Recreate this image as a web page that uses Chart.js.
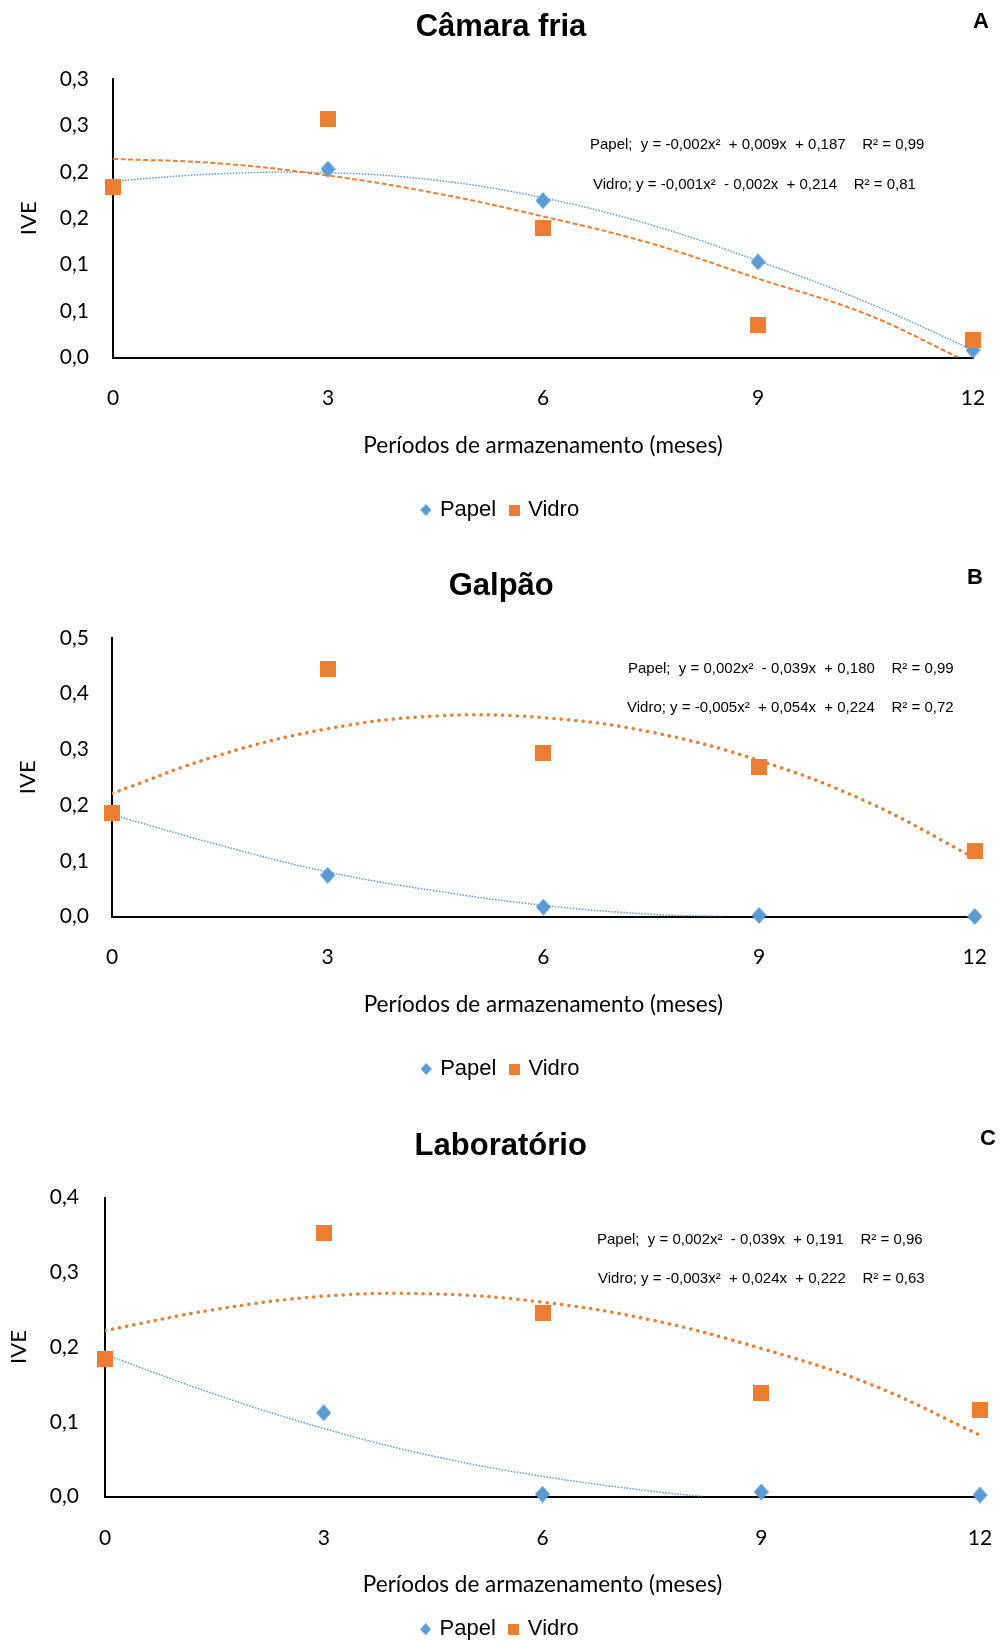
<!DOCTYPE html>
<html>
<head>
<meta charset="utf-8">
<title>IVE</title>
<script src="https://cdn.jsdelivr.net/npm/chart.js@4.4.1/dist/chart.umd.min.js"></script>
<style>
  html, body { margin: 0; padding: 0; background: #fff; }
  #page { position: relative; width: 1001px; height: 1641px; overflow: hidden; }
  .panel { position: absolute; left: 0; width: 1001px; overflow: hidden; }
  .panel canvas { display: block; }
</style>
</head>
<body>
<div id="page">
  <div class="panel" style="top:0;height:559px"><canvas id="chartA" width="1001" height="559"></canvas></div>
  <div class="panel" style="top:559px;height:559px"><canvas id="chartB" width="1001" height="559"></canvas></div>
  <div class="panel" style="top:1118px;height:523px"><canvas id="chartC" width="1001" height="546"></canvas></div>
</div>
<script>
// --- data ---
var seriesNames = ['Papel', 'Vidro'];
var months = [0, 3, 6, 9, 12];
var trendMonths = [0, 1.5, 3, 4.5, 6, 7.5, 9, 10.5, 12];

// A - Câmara fria
var papelA = [0.184, 0.203, 0.169, 0.103, 0.008];
var vidroA = [0.184, 0.257, 0.139, 0.035, 0.019];
var trendPapelA = [0.190, 0.198, 0.199, 0.191, 0.172, 0.143, 0.104, 0.060, 0.008];
var trendVidroAx = [0, 1.5, 3, 4.5, 6, 7.5, 9, 10.5, 11.8];
var trendVidroA = [0.214, 0.209, 0.196, 0.177, 0.152, 0.123, 0.085, 0.047, 0];
var eqA = ['Papel;  y = -0,002x²  + 0,009x  + 0,187    R² = 0,99',
           'Vidro; y = -0,001x²  - 0,002x  + 0,214    R² = 0,81'];

// B - Galpão
var papelB = [0.185, 0.074, 0.017, 0.002, 0.000];
var vidroB = [0.186, 0.444, 0.294, 0.269, 0.117];
var trendPapelBx = [0, 1.5, 3, 4.5, 6, 7.5, 8.5];
var trendPapelB = [0.183, 0.128, 0.080, 0.046, 0.020, 0.004, 0];
var trendVidroB = [0.221, 0.290, 0.337, 0.360, 0.357, 0.331, 0.280, 0.206, 0.105];
var eqB = ['Papel;  y = 0,002x²  - 0,039x  + 0,180    R² = 0,99',
           'Vidro; y = -0,005x²  + 0,054x  + 0,224    R² = 0,72'];

// C - Laboratório
var papelC = [0.185, 0.112, 0.003, 0.006, 0.002];
var vidroC = [0.184, 0.353, 0.246, 0.138, 0.116];
var trendPapelCx = [0, 1.5, 3, 4.5, 6, 7.5, 8.2];
var trendPapelC = [0.190, 0.137, 0.091, 0.054, 0.027, 0.007, 0];
var trendVidroC = [0.222, 0.250, 0.268, 0.271, 0.260, 0.236, 0.198, 0.150, 0.082];
var eqC = ['Papel;  y = 0,002x²  - 0,039x  + 0,191    R² = 0,96',
           'Vidro; y = -0,003x²  + 0,024x  + 0,222    R² = 0,63'];

var blue = '#5B9BD5';
var orange = '#ED7D31';

Chart.defaults.font.family = 'Lato';
Chart.defaults.color = '#000';

function pts(xs, ys) {
  return xs.map(function(x, i) { return {x: x, y: ys[i]}; });
}

// marker images (Excel style diamond / square)
function marker(shape, w, h, color) {
  var c = document.createElement('canvas');
  c.width = w; c.height = h;
  var g = c.getContext('2d');
  g.fillStyle = color;
  g.beginPath();
  if (shape === 'diamond') {
    g.moveTo(w / 2, 0); g.lineTo(w, h / 2); g.lineTo(w / 2, h); g.lineTo(0, h / 2);
  } else {
    g.rect(0, 0, w, h);
  }
  g.closePath();
  g.fill();
  return c;
}
var diamondBig = marker('diamond', 15, 17, blue);
var squareBig = marker('square', 16, 16, orange);
var diamondSmall = marker('diamond', 11, 12, blue);
var squareSmall = marker('square', 11, 11, orange);

function fmtY(v) {
  return (Math.round(v * 10 + 1e-9) / 10).toFixed(1).replace('.', ',');
}

// panel letter + trendline equations
function notes(o) {
  return {
    id: 'notes',
    afterDraw: function(chart) {
      var ctx = chart.ctx;
      ctx.save();
      ctx.fillStyle = '#000';
      ctx.textBaseline = 'middle';
      ctx.textAlign = 'center';
      ctx.font = 'bold 22px "Liberation Sans"';
      ctx.fillText(o.letter, o.letterPos[0], o.letterPos[1]);
      ctx.textAlign = 'left';
      ctx.font = '15px "Liberation Sans"';
      o.eq.forEach(function(t, i) {
        ctx.fillText(t, o.eqPos[i][0], o.eqPos[i][1]);
      });
      ctx.restore();
    }
  };
}

function panel(id, o) {
  var vidroTrendStyle = o.dashedVidro
    ? {borderWidth: 2, borderDash: [5, 2.5], borderCapStyle: 'butt'}
    : {borderWidth: 3.5, borderDash: [0.1, 7.2], borderCapStyle: 'round'};

  var datasets = [
    {label: seriesNames[0], data: pts(months, o.papel), order: 1,
     pointStyle: diamondBig, pointRadius: 8, showLine: false, clip: false},
    {label: seriesNames[1], data: pts(months, o.vidro), order: 0,
     pointStyle: squareBig, pointRadius: 8, showLine: false, clip: false},
    {label: 'trend ' + seriesNames[0], data: pts(o.papelTx, o.papelT), order: 3,
     showLine: true, pointRadius: 0, borderColor: blue, borderWidth: 1.5,
     borderDash: [1.5, 1.5], tension: 0.4},
    Object.assign({label: 'trend ' + seriesNames[1], data: pts(o.vidroTx, o.vidroT), order: 2,
     showLine: true, pointRadius: 0, borderColor: orange, tension: 0.4}, vidroTrendStyle)
  ];

  return new Chart(document.getElementById(id), {
    type: 'scatter',
    data: {datasets: datasets},
    options: {
      responsive: false,
      devicePixelRatio: 1,
      animation: false,
      events: [],
      layout: {padding: {left: o.padL, right: o.padR, top: 0, bottom: o.bottomPad}},
      scales: {
        x: {
          type: 'linear', min: 0, max: 12,
          grid: {display: false, drawTicks: false},
          border: {display: true, color: '#000', width: 2},
          ticks: {stepSize: 3, padding: o.xTickPad, font: {size: 21},
                  callback: function(v) { return String(v); }},
          title: {display: true, text: 'Períodos de armazenamento (meses)',
                  font: {size: 22.5}, padding: {top: 0, bottom: o.xTitleBottom}},
          afterFit: function(s) {
            s.height = o.xHeight;
            s.paddingLeft = 0;
            s.paddingRight = 0;
          }
        },
        y: {
          min: 0, max: o.yMax,
          grid: {display: false, drawTicks: false},
          border: {display: true, color: '#000', width: 2},
          ticks: {stepSize: o.yStep, padding: o.yTickPad, font: {size: 21}, callback: fmtY},
          title: {display: true, text: 'IVE', font: {size: 22, lineHeight: 1},
                  padding: {top: o.yTitlePad, bottom: 0}},
          afterFit: function(s) { s.width = o.left - o.padL; }
        }
      },
      plugins: {
        title: {
          display: true, text: o.title, color: '#000',
          font: {family: 'Liberation Sans', size: 31, weight: 'bold', lineHeight: 1.2},
          padding: {top: o.titleTop, bottom: o.titleBottom}
        },
        legend: {
          position: 'bottom',
          labels: {
            font: {family: 'Liberation Sans', size: 22},
            color: '#000',
            usePointStyle: true,
            pointStyleWidth: 6,
            padding: 15,
            generateLabels: function() {
              return [
                {text: seriesNames[0], pointStyle: diamondSmall, fillStyle: blue, strokeStyle: blue,
                 lineWidth: 0, hidden: false, datasetIndex: 0, fontColor: '#000'},
                {text: seriesNames[1], pointStyle: squareSmall, fillStyle: orange, strokeStyle: orange,
                 lineWidth: 0, hidden: false, datasetIndex: 1, fontColor: '#000'}
              ];
            }
          }
        },
        tooltip: {enabled: false}
      }
    },
    plugins: [notes(o)]
  });
}

panel('chartA', {
  title: 'Câmara fria', letter: 'A', letterPos: [981, 22],
  eq: eqA, eqPos: [[590, 144.5], [593, 184.5]],
  papel: papelA, vidro: vidroA,
  papelTx: trendMonths, papelT: trendPapelA,
  vidroTx: trendVidroAx, vidroT: trendVidroA, dashedVidro: true,
  yMax: 0.3, yStep: 0.05,
  padL: 29, padR: 28, left: 113, bottomPad: 28,
  titleTop: 8.4, titleBottom: 33.4,
  xTickPad: 28, xHeight: 126.5, xTitleBottom: 24.5,
  yTickPad: 24, yTitlePad: -11.5
});

panel('chartB', {
  title: 'Galpão', letter: 'B', letterPos: [975, 19],
  eq: eqB, eqPos: [[628, 109.5], [627, 148.5]],
  papel: papelB, vidro: vidroB,
  papelTx: trendPapelBx, papelT: trendPapelB,
  vidroTx: trendMonths, vidroT: trendVidroB, dashedVidro: false,
  yMax: 0.5, yStep: 0.1,
  padL: 27.8, padR: 26.3, left: 112, bottomPad: 28,
  titleTop: 8.7, titleBottom: 33.1,
  xTickPad: 28, xHeight: 126.5, xTitleBottom: 24.5,
  yTickPad: 23, yTitlePad: -11.3
});

panel('chartC', {
  title: 'Laboratório', letter: 'C', letterPos: [988, 21],
  eq: eqC, eqPos: [[597, 122], [598, 161]],
  papel: papelC, vidro: vidroC,
  papelTx: trendPapelCx, papelT: trendPapelC,
  vidroTx: trendMonths, vidroT: trendVidroC, dashedVidro: false,
  yMax: 0.4, yStep: 0.1,
  padL: 21.4, padR: 21, left: 105, bottomPad: 13.8,
  titleTop: 9.9, titleBottom: 32.4,
  xTickPad: 28.9, xHeight: 106.7, xTitleBottom: 4.5,
  yTickPad: 26, yTitlePad: -13.4
});
</script>
</body>
</html>
